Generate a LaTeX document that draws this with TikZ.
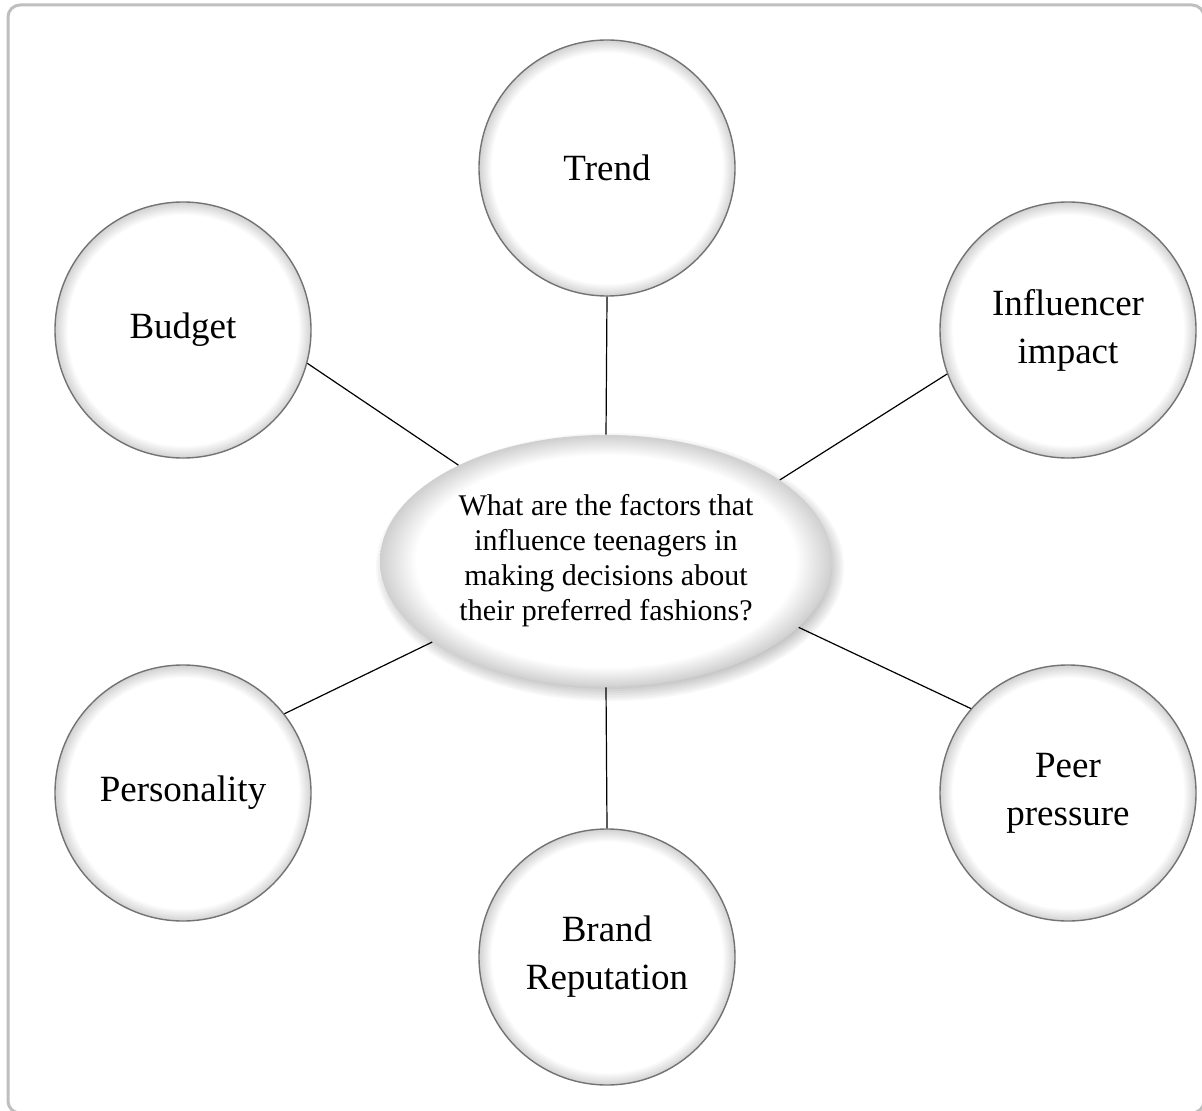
\documentclass[tikz,border=0pt]{standalone}
\usepackage{fontspec}
\setmainfont{Liberation Serif}
\usetikzlibrary{shapes.geometric}

\pgfdeclareradialshading{rimglow}{\pgfpoint{0bp}{0bp}}{color(0bp)=(white); color(22.5bp)=(white); color(25bp)=(black!18); color(50bp)=(black!18)}
\pgfdeclareradialshading{hubglow}{\pgfpoint{0bp}{0bp}}{color(0bp)=(white); color(21bp)=(white); color(25bp)=(black!19); color(50bp)=(black!19)}

\begin{document}
\begin{tikzpicture}[x=0.5pt, y=0.5pt,
      factor/.style={circle, draw=black!55, line width=0.7pt, shading=rimglow, minimum size=128pt, inner sep=0pt, align=center, font=\fontsize{18.5}{24}\selectfont},
      hub/.style={ellipse, shading=hubglow, minimum width=226pt, minimum height=126pt, inner sep=0pt, align=center, font=\fontsize{15}{17.5}\selectfont},
      link/.style={line width=0.6pt}]
    \useasboundingbox (0,0) rectangle (1202,1110);
    \draw[black!25, line width=1.5pt, rounded corners=6pt] (8,1105) rectangle (1204,-3);
    % centre question with soft shadow
    \coordinate (qc) at (606,549);
    \foreach \k in {0,...,7}
      \fill[black, opacity=0.03] ([shift={(4,-6)}]qc) ellipse ({220+\k*2} and {120+\k*2});
    \node[hub] (quest) at (qc) {What are the factors that\\influence teenagers in\\making decisions about\\their preferred fashions?};
    % factors
    \node[factor] (trend) at (607,942) {Trend};
    \node[factor] (budget) at (183,780) {Budget};
    \node[factor] (infl) at (1068,780) {Influencer\\impact};
    \node[factor] (pers) at (183,317) {Personality};
    \node[factor] (peer) at (1068,317) {Peer\\pressure};
    \node[factor] (brand) at (607,153) {Brand\\Reputation};
    \draw[link] (trend.south) -- (quest.north);
    \draw[link] (budget.-15) -- (quest.147);
    \draw[link] (infl.200) -- (quest.25);
    \draw[link] (pers.38) -- (quest.205);
    \draw[link] (peer.139) -- (quest.-19);
    \draw[link] (quest.south) -- (brand.north);
  \end{tikzpicture}
\end{document}
